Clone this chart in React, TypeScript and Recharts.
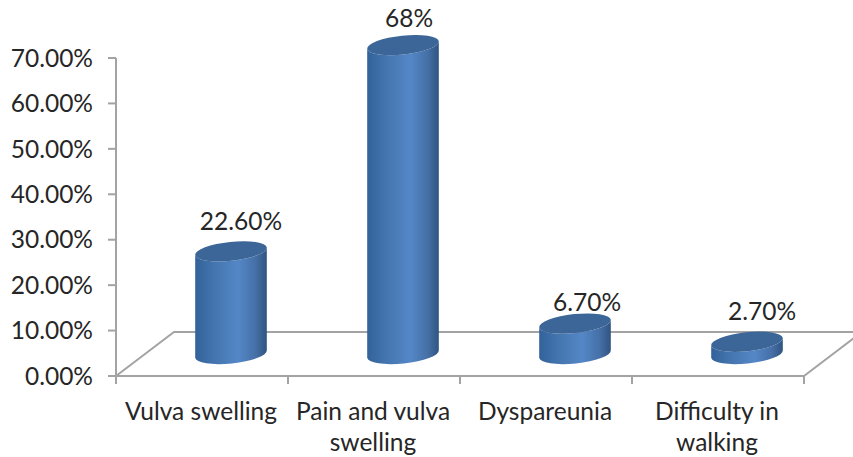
import { BarChart, Bar, XAxis, YAxis, LabelList } from 'recharts'

const categories = ['Vulva swelling', 'Pain and vulva swelling', 'Dyspareunia', 'Difficulty in walking']
const percentages = [22.6, 68, 6.7, 2.7]
const valueLabels = ['22.60%', '68%', '6.70%', '2.70%']
const yTicks = [0, 10, 20, 30, 40, 50, 60, 70]
const tickLines = [['Vulva swelling'], ['Pain and vulva', 'swelling'], ['Dyspareunia'], ['Difficulty in', 'walking']]

const data = categories.map((name, i) => ({ name, value: percentages[i] }))

const WIDTH = 853
const HEIGHT = 457
const X_AXIS_HEIGHT = 81
const MARGIN = { top: 58, right: 49, bottom: 0, left: 0 }
const AXIS_LEFT = 116
const AXIS_RIGHT = WIDTH - MARGIN.right
const AXIS_BOTTOM = HEIGHT - X_AXIS_HEIGHT
const TICK_SIZE = 8

// floor depth of the 3D box, cylinders stand halfway back
const DEPTH_X = 58
const DEPTH_Y = 44

const AXIS_COLOR = '#a3a3a3'
const TEXT_COLOR = '#262626'
const FONT = 'Lato, sans-serif'
const FONT_SIZE = 24.5

const RY = 9.5
const TILT = -6
const TILT_DX = Math.cos((TILT * Math.PI) / 180)
const TILT_DY = Math.sin((TILT * Math.PI) / 180)

function Cylinder(props: any) {
    const { x, y, width, height } = props
    const rx = width / 2
    const cx = x + rx + DEPTH_X / 2
    const top = y - DEPTH_Y / 2
    const base = top + height
    const dx = rx * TILT_DX
    const dy = rx * TILT_DY
    const arc = `A ${rx} ${RY} ${TILT} 0`
    const body = [
        `M ${cx - dx} ${top - dy}`,
        `L ${cx - dx} ${base - dy}`,
        `${arc} 0 ${cx + dx} ${base + dy}`,
        `L ${cx + dx} ${top + dy}`,
        `${arc} 1 ${cx - dx} ${top - dy}`,
        'Z',
    ].join(' ')
    return (
        <g>
            <path d={body} fill="url(#cylinderSide)" />
            <ellipse
                cx={cx}
                cy={top}
                rx={rx}
                ry={RY}
                fill="#3c6697"
                transform={`rotate(${TILT} ${cx} ${top})`}
            />
        </g>
    )
}

// value labels sit a little right of each cylinder, hand placed
const labelShift = [
    { dx: 10, dy: -31 },
    { dx: 6, dy: -28 },
    { dx: 12, dy: -22 },
    { dx: 15, dy: -31 },
]

function ValueLabel(props: any) {
    const { x, y, width, index } = props
    const shift = labelShift[index]
    return (
        <text
            x={x + width / 2 + DEPTH_X / 2 + shift.dx}
            y={y - DEPTH_Y / 2 + shift.dy}
            textAnchor="middle"
            dominantBaseline="central"
            fontFamily={FONT}
            fontSize={FONT_SIZE}
            fill={TEXT_COLOR}
        >
            {valueLabels[index]}
        </text>
    )
}

function CategoryTick(props: any) {
    const { x, y, index } = props
    return (
        <text textAnchor="middle" fontFamily={FONT} fontSize={FONT_SIZE} fill={TEXT_COLOR}>
            {tickLines[index].map((line, i) => (
                <tspan key={line} x={x - 1} y={y + 34 + i * 31}>
                    {line}
                </tspan>
            ))}
        </text>
    )
}

// floor outline plus the category ticks, which fall between the bands
function Floor() {
    const backY = AXIS_BOTTOM - DEPTH_Y
    const points = [
        [AXIS_LEFT, AXIS_BOTTOM],
        [AXIS_LEFT + DEPTH_X, backY],
        [AXIS_RIGHT + DEPTH_X, backY],
        [AXIS_RIGHT, AXIS_BOTTOM],
    ]
    const band = (AXIS_RIGHT - AXIS_LEFT) / categories.length
    const edges = [...categories.map((_, i) => AXIS_LEFT + i * band), AXIS_RIGHT]
    return (
        <g stroke={AXIS_COLOR} strokeWidth={2} fill="none">
            <polyline points={points.map((p) => p.join(',')).join(' ')} />
            {edges.map((edge) => (
                <line key={edge} x1={edge} y1={AXIS_BOTTOM} x2={edge} y2={AXIS_BOTTOM + TICK_SIZE} />
            ))}
        </g>
    )
}

export default function App() {
    return (
        <div style={{ position: 'absolute', left: 0, top: 0, width: WIDTH, height: HEIGHT, overflow: 'hidden' }}>
            <BarChart width={WIDTH} height={HEIGHT} data={data} margin={MARGIN} barSize={72}>
                <defs>
                    <linearGradient id="cylinderSide" x1="0" y1="0" x2="1" y2="0">
                        <stop offset="0%" stopColor="#33629a" />
                        <stop offset="25%" stopColor="#4374ad" />
                        <stop offset="60%" stopColor="#5487c7" />
                        <stop offset="85%" stopColor="#456fa6" />
                        <stop offset="100%" stopColor="#2f5480" />
                    </linearGradient>
                </defs>
                <Floor />
                <XAxis
                    dataKey="name"
                    height={X_AXIS_HEIGHT}
                    interval={0}
                    tickSize={TICK_SIZE}
                    tick={<CategoryTick />}
                    axisLine={{ stroke: AXIS_COLOR, strokeWidth: 2 }}
                    tickLine={false}
                />
                <YAxis
                    width={AXIS_LEFT}
                    domain={[0, 70]}
                    ticks={yTicks}
                    interval={0}
                    tickSize={TICK_SIZE}
                    tickMargin={15}
                    tickFormatter={(v: number) => `${v.toFixed(2)}%`}
                    tick={{ fontFamily: FONT, fontSize: FONT_SIZE, fill: TEXT_COLOR }}
                    axisLine={{ stroke: AXIS_COLOR, strokeWidth: 2 }}
                    tickLine={{ stroke: AXIS_COLOR, strokeWidth: 2 }}
                />
                <Bar dataKey="value" shape={<Cylinder />} isAnimationActive={false}>
                    <LabelList dataKey="value" content={<ValueLabel />} />
                </Bar>
            </BarChart>
        </div>
    )
}
